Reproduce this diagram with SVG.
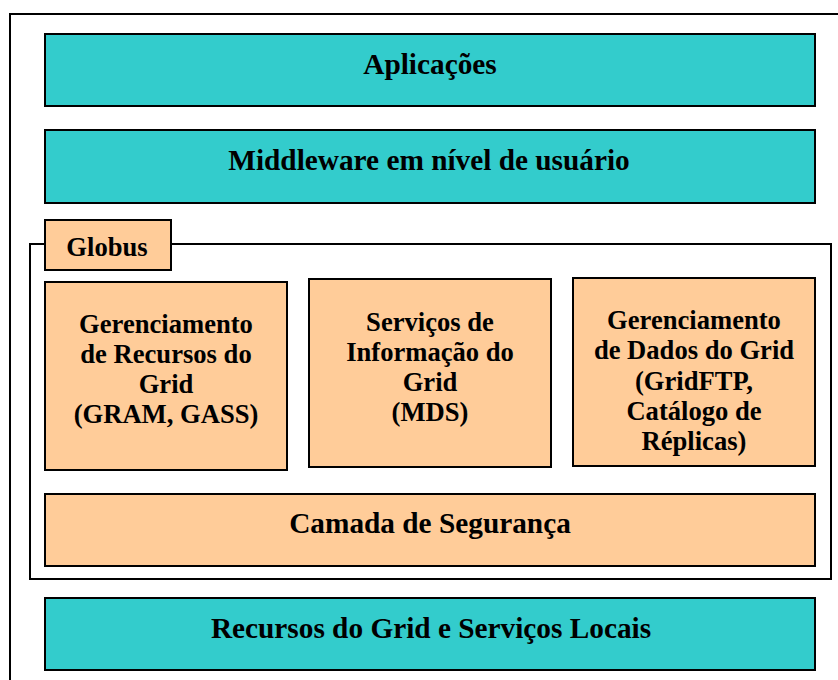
<svg xmlns="http://www.w3.org/2000/svg" width="838" height="680" viewBox="0 0 838 680">
<style>
.teal{fill:#33CCCC;stroke:#000;stroke-width:2}
.peach{fill:#FFCC99;stroke:#000;stroke-width:2}
.frame{fill:#fff;stroke:#000;stroke-width:2}
text{font-family:"Liberation Serif","Times New Roman",serif;font-weight:bold;fill:#000;text-anchor:middle}
.big{font-size:29.3px}
.mid{font-size:26.6px}
</style>
<rect x="0" y="0" width="838" height="680" fill="#fff"/>
<rect class="frame" x="10" y="14" width="840" height="680"/>
<g id="aplicacoes">
<rect class="teal" x="45" y="34" width="770" height="72"/>
<text class="big" x="430" y="74">Aplicações</text>
</g>
<g id="middleware">
<rect class="teal" x="45" y="130" width="770" height="73"/>
<text class="big" x="429" y="170">Middleware em nível de usuário</text>
</g>
<g id="globus">
<rect class="frame" x="30" y="244" width="801" height="335"/>
<rect class="peach" x="45" y="220" width="126" height="50"/>
<text class="mid" x="107" y="256">Globus</text>
</g>
<g id="gram">
<rect class="peach" x="45" y="282" width="242" height="188"/>
<text class="mid" x="166" y="333">Gerenciamento</text>
<text class="mid" x="166" y="363">de Recursos do</text>
<text class="mid" x="166" y="393">Grid</text>
<text class="mid" x="166" y="423">(GRAM, GASS)</text>
</g>
<g id="mds">
<rect class="peach" x="309" y="279" width="242" height="188"/>
<text class="mid" x="430" y="331">Serviços de</text>
<text class="mid" x="430" y="361">Informação do</text>
<text class="mid" x="430" y="391">Grid</text>
<text class="mid" x="430" y="421">(MDS)</text>
</g>
<g id="dados">
<rect class="peach" x="573" y="278" width="242" height="188"/>
<text class="mid" x="694" y="329">Gerenciamento</text>
<text class="mid" x="694" y="359">de Dados do Grid</text>
<text class="mid" x="694" y="390">(GridFTP,</text>
<text class="mid" x="694" y="420">Catálogo de</text>
<text class="mid" x="694" y="450">Réplicas)</text>
</g>
<g id="seguranca">
<rect class="peach" x="45" y="494" width="770" height="72"/>
<text class="big" x="430" y="533">Camada de Segurança</text>
</g>
<g id="recursos">
<rect class="teal" x="45" y="598" width="770" height="72"/>
<text class="big" x="431" y="638">Recursos do Grid e Serviços Locais</text>
</g>
<g id="connectors"/>
</svg>
